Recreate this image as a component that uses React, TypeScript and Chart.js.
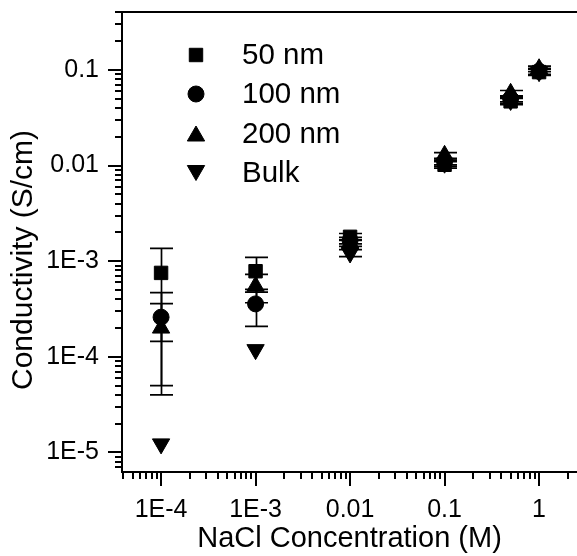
import React, { useEffect, useRef } from 'react';
import { Chart, registerables } from 'chart.js';
import { drawPoint } from 'chart.js/helpers';

Chart.register(...registerables);

// ---- data ----
const concentrations = [1e-4, 1e-3, 0.01, 0.1, 0.5, 1];

const series50 = [7.55e-4, 7.86e-4, 1.8e-3, 0.0102, 0.047, 0.095];
const err50 = [6.1e-4, 3.1e-4, 1.5e-4, 8e-4, 3.5e-3, 7e-3];

const series100 = [2.6e-4, 3.58e-4, 1.65e-3, 0.011, 0.05, 0.097];
const err100 = [2.1e-4, 1.5e-4, 1.3e-4, 8e-4, 3.5e-3, 7e-3];

const series200 = [2.0e-4, 5.48e-4, 1.55e-3, 0.0128, 0.057, 0.103];
const err200 = [1.6e-4, 1.8e-4, 1.2e-4, 9e-4, 4e-3, 7e-3];

const seriesBulk = [1.23e-5, 1.19e-4, 1.22e-3, 0.0106, 0.048, 0.096];
const errBulk = [0, 0, 1e-4, 8e-4, 3.5e-3, 7e-3];

const seriesNames = ['50 nm', '100 nm', '200 nm', 'Bulk'];

const xTickValues = [1e-4, 1e-3, 0.01, 0.1, 1];
const xTickLabels = ['1E-4', '1E-3', '0.01', '0.1', '1'];
const yTickValues = [1e-5, 1e-4, 1e-3, 0.01, 0.1];
const yTickLabels = ['1E-5', '1E-4', '1E-3', '0.01', '0.1'];

const xTitle = 'NaCl Concentration (M)';
const yTitle = 'Conductivity (S/cm)';

const xMin = 3.86e-5;
const xMax = 2.52;
const yMin = 6.25e-6;
const yMax = 0.404;

const FONT = "'Liberation Sans', Arial, Helvetica, sans-serif";

const toPoints = (vals: number[]) => concentrations.map((c, i) => ({ x: c, y: vals[i] }));

const markers = [
  { pointStyle: 'rect', radius: 9.5, rotation: 0 },
  { pointStyle: 'circle', radius: 8, rotation: 0 },
  { pointStyle: 'triangle', radius: 10, rotation: 0 },
  { pointStyle: 'triangle', radius: 10, rotation: 180 },
];

const errorBarPlugin = {
  id: 'errorBars',
  beforeDatasetsDraw(chart: any) {
    const { ctx } = chart;
    const xs = chart.scales.x;
    const ys = chart.scales.y;
    ctx.save();
    ctx.strokeStyle = '#000';
    ctx.lineWidth = 1.7;
    chart.data.datasets.forEach((ds: any) => {
      const errs: number[] = ds.errors;
      if (!errs) return;
      ds.data.forEach((p: any, i: number) => {
        const e = errs[i];
        if (!e) return;
        const px = Math.round(xs.getPixelForValue(p.x)) + 0.5;
        const top = ys.getPixelForValue(p.y + e);
        const bot = ys.getPixelForValue(Math.max(p.y - e, 1e-12));
        const cap = 11.5;
        ctx.beginPath();
        ctx.moveTo(px, top);
        ctx.lineTo(px, bot);
        ctx.moveTo(px - cap, top);
        ctx.lineTo(px + cap, top);
        ctx.moveTo(px - cap, bot);
        ctx.lineTo(px + cap, bot);
        ctx.stroke();
      });
    });
    ctx.restore();
  },
};

const framePlugin = {
  id: 'frame',
  afterDraw(chart: any) {
    const { ctx, chartArea: a } = chart;
    const xs = chart.scales.x;
    const ys = chart.scales.y;
    ctx.save();
    ctx.strokeStyle = '#000';
    ctx.lineWidth = 2;
    ctx.beginPath();
    ctx.moveTo(a.left, a.top);
    ctx.lineTo(chart.width, a.top);
    ctx.moveTo(a.left, a.top - 1);
    ctx.lineTo(a.left, a.bottom + 1);
    ctx.moveTo(a.left - 1, a.bottom);
    ctx.lineTo(chart.width, a.bottom);
    // x ticks
    for (let d = Math.floor(Math.log10(xMin)); d <= Math.ceil(Math.log10(xMax)); d++) {
      for (let m = 1; m <= 9; m++) {
        const v = m * Math.pow(10, d);
        if (v < xMin || v > xMax) continue;
        const px = Math.round(xs.getPixelForValue(v));
        const len = m === 1 ? 14 : 7;
        ctx.moveTo(px, a.bottom);
        ctx.lineTo(px, a.bottom + len);
      }
    }
    // y ticks
    for (let d = Math.floor(Math.log10(yMin)); d <= Math.ceil(Math.log10(yMax)); d++) {
      for (let m = 1; m <= 9; m++) {
        const v = m * Math.pow(10, d);
        if (v < yMin || v > yMax) continue;
        const py = Math.round(ys.getPixelForValue(v));
        const len = m === 1 ? 14 : 7;
        ctx.moveTo(a.left, py);
        ctx.lineTo(a.left - len, py);
      }
    }
    ctx.stroke();

    // y-axis title (slightly below the axis centre, as in the source figure)
    ctx.save();
    ctx.translate(24, (a.top + a.bottom) / 2 + 18);
    ctx.rotate(-Math.PI / 2);
    ctx.fillStyle = '#000';
    ctx.font = `30px ${FONT}`;
    ctx.textAlign = 'center';
    ctx.textBaseline = 'middle';
    ctx.fillText(yTitle, 0, 0);
    ctx.restore();

    ctx.restore();
  },
};

const legendPlugin = {
  id: 'customLegend',
  afterDraw(chart: any) {
    const { ctx } = chart;
    const markerX = 196;
    const textX = 242;
    const rowY = [55, 94, 133.5, 173];
    ctx.save();
    seriesNames.forEach((name, i) => {
      const m = markers[i];
      const off = m.pointStyle === 'triangle' ? (m.rotation ? -2.5 : 2.5) : 0;
      ctx.fillStyle = '#000';
      ctx.strokeStyle = '#000';
      ctx.lineWidth = 1;
      drawPoint(ctx, { pointStyle: m.pointStyle, rotation: m.rotation, radius: m.radius, borderWidth: 1 } as any, markerX, rowY[i] + off);
      ctx.fillStyle = '#000';
      ctx.font = `29.5px ${FONT}`;
      ctx.textAlign = 'left';
      ctx.textBaseline = 'middle';
      ctx.fillText(name, textX, rowY[i] + 1);
    });
    ctx.restore();
  },
};

export default function App() {
  const canvasRef = useRef<HTMLCanvasElement | null>(null);

  useEffect(() => {
    const canvas = canvasRef.current;
    if (!canvas) return;
    const seriesVals = [series50, series100, series200, seriesBulk];
    const seriesErrs = [err50, err100, err200, errBulk];
    const chart = new Chart(canvas, {
      type: 'scatter',
      data: {
        datasets: seriesNames.map((name, i) => ({
          label: name,
          data: toPoints(seriesVals[i]),
          errors: seriesErrs[i],
          pointStyle: markers[i].pointStyle,
          pointRadius: markers[i].radius,
          pointRotation: markers[i].rotation,
          backgroundColor: '#000',
          borderColor: '#000',
          borderWidth: 1,
          showLine: false,
        })) as any,
      },
      options: {
        responsive: false,
        animation: false,
        maintainAspectRatio: false,
        layout: { autoPadding: false, padding: { top: 12, right: 0, left: 0, bottom: 0 } },
        plugins: { legend: { display: false }, tooltip: { enabled: false } },
        scales: {
          x: {
            type: 'logarithmic',
            min: xMin,
            max: xMax,
            afterBuildTicks: (s: any) => {
              s.ticks = xTickValues.map((v) => ({ value: v }));
            },
            afterFit: (s: any) => {
              s.height = 84;
              s.paddingLeft = 0;
              s.paddingRight = 0;
            },
            ticks: {
              autoSkip: false,
              maxRotation: 0,
              minRotation: 0,
              padding: 23,
              color: '#000',
              font: { family: FONT, size: 25 },
              callback: (v: any) => {
                const i = xTickValues.indexOf(v);
                return i >= 0 ? xTickLabels[i] : '';
              },
            },
            grid: { display: false, drawTicks: false },
            border: { display: false },
            title: {
              display: true,
              text: xTitle,
              color: '#000',
              font: { family: FONT, size: 29 },
              padding: { top: 0, bottom: 0 },
            },
          },
          y: {
            type: 'logarithmic',
            min: yMin,
            max: yMax,
            afterBuildTicks: (s: any) => {
              s.ticks = yTickValues.map((v) => ({ value: v }));
            },
            afterFit: (s: any) => {
              s.width = 122;
              s.paddingTop = 0;
              s.paddingBottom = 0;
            },
            ticks: {
              autoSkip: false,
              padding: 23,
              color: '#000',
              font: { family: FONT, size: 25 },
              callback: (v: any) => {
                const i = yTickValues.indexOf(v);
                return i >= 0 ? yTickLabels[i] : '';
              },
            },
            grid: { display: false, drawTicks: false },
            border: { display: false },
            title: { display: false, text: yTitle },
          },
        },
      } as any,
      plugins: [errorBarPlugin, framePlugin, legendPlugin],
    });
    return () => chart.destroy();
  }, []);

  return (
    <div style={{ position: 'fixed', left: 0, top: 0, width: 577, height: 556, overflow: 'hidden', background: '#fff' }}>
      <canvas ref={canvasRef} width={577} height={556} style={{ width: 577, height: 556, display: 'block' }} />
    </div>
  );
}
